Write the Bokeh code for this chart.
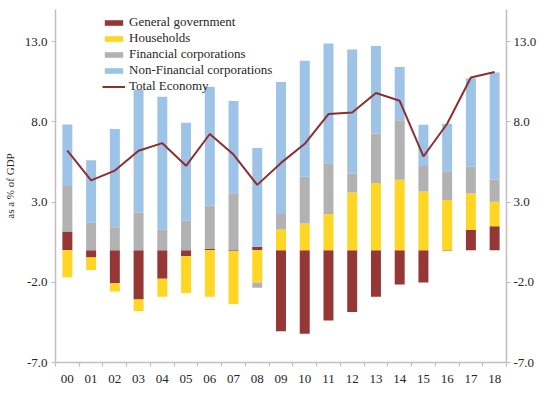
from bokeh.plotting import figure
from bokeh.models import Range1d, LinearAxis, FixedTicker, Legend, LegendItem, ColumnDataSource
from bokeh.embed import file_html
from bokeh.resources import INLINE

years = ["00", "01", "02", "03", "04", "05", "06", "07", "08", "09",
         "10", "11", "12", "13", "14", "15", "16", "17", "18"]
general_government = [1.17, -0.45, -2.06, -3.07, -1.78, -0.37, 0.08, -0.05, 0.22, -5.05,
                      -5.21, -4.38, -3.86, -2.91, -2.14, -2.02, -0.03, 1.27, 1.49]
households = [-1.68, -0.78, -0.52, -0.72, -1.13, -2.30, -2.91, -3.30, -2.02, 1.29,
              1.67, 2.25, 3.60, 4.19, 4.39, 3.65, 3.12, 2.27, 1.53]
financial_corps = [2.83, 1.71, 1.43, 2.35, 1.27, 1.83, 2.70, 3.55, -0.32, 0.96,
                   2.90, 3.17, 1.17, 3.08, 3.71, 1.59, 1.80, 1.66, 1.39]
non_financial_corps = [3.84, 3.89, 6.13, 7.67, 8.30, 6.11, 7.40, 5.74, 6.15, 8.23,
                       7.24, 7.46, 7.73, 5.45, 3.31, 2.58, 2.96, 5.52, 6.67]
total_economy = [6.20, 4.35, 4.96, 6.20, 6.67, 5.26, 7.24, 5.96, 4.07, 5.44,
                 6.63, 8.48, 8.58, 9.80, 9.31, 5.84, 7.88, 10.76, 11.11]

y_ticks = [-7, -2, 3, 8, 13]

names = ["General government", "Households", "Financial corporations", "Non-Financial corporations"]
colors = ["#953735", "#FFD624", "#B2B2B2", "#9DC3E6"]
series = [general_government, households, financial_corps, non_financial_corps]

FONT = "'Liberation Serif', 'Times New Roman', serif"
AXIS_COLOR = "#BFBFBF"
TEXT_COLOR = "#262626"

n = len(years)
xs = list(range(n))

p = figure(width=539, height=389, output_backend="svg", toolbar_location=None,
           x_range=Range1d(-0.5, n - 0.5), y_range=Range1d(-7, 15),
           min_border_top=9, min_border_bottom=27, min_border_left=50, min_border_right=30)
p.outline_line_color = None
p.xgrid.visible = False
p.ygrid.visible = False
p.background_fill_color = "white"
p.border_fill_color = "white"

pos_base = [0.0] * n
neg_base = [0.0] * n
items = []
for name, col, vals in zip(names, colors, series):
    bottoms, tops = [], []
    for i, v in enumerate(vals):
        if v >= 0:
            bottoms.append(pos_base[i]); tops.append(pos_base[i] + v); pos_base[i] += v
        else:
            tops.append(neg_base[i]); bottoms.append(neg_base[i] + v); neg_base[i] += v
    src = ColumnDataSource(dict(x=xs, top=tops, bottom=bottoms))
    r = p.vbar(x="x", top="top", bottom="bottom", width=0.42, source=src,
               fill_color=col, line_color=None)
    items.append(LegendItem(label=name, renderers=[r]))

lsrc = ColumnDataSource(dict(x=xs, y=total_economy))
lr = p.line(x="x", y="y", source=lsrc, line_color="#8E2F2F", line_width=2)
items.append(LegendItem(label="Total Economy", renderers=[lr]))

def style_axis(ax):
    ax.axis_line_color = AXIS_COLOR
    ax.axis_line_width = 1.5
    ax.major_tick_line_color = AXIS_COLOR
    ax.major_tick_line_width = 1.2
    ax.minor_tick_line_color = None
    ax.major_label_text_font = FONT
    ax.major_label_text_font_size = "13px"
    ax.major_label_text_color = TEXT_COLOR

yax = p.yaxis[0]
yax.ticker = FixedTicker(ticks=y_ticks)
yax.major_label_overrides = {t: f"{t:.1f}" for t in y_ticks}
style_axis(yax)
yax.major_tick_in = 0
yax.major_tick_out = 4
yax.major_label_standoff = 4
yax.axis_label = "as a % of GDP"
yax.axis_label_text_font = FONT
yax.axis_label_text_font_style = "normal"
yax.axis_label_text_font_size = "11px"
yax.axis_label_text_color = TEXT_COLOR
yax.axis_label_standoff = 6

rax = LinearAxis(ticker=FixedTicker(ticks=y_ticks))
rax.major_label_overrides = {t: f"{t:.1f}" for t in y_ticks}
style_axis(rax)
rax.major_tick_in = 0
rax.major_tick_out = 4
rax.major_label_standoff = 3
p.add_layout(rax, "right")

xax = p.xaxis[0]
xax.ticker = FixedTicker(ticks=xs, minor_ticks=[i - 0.5 for i in range(n + 1)])
xax.major_label_overrides = {i: y for i, y in enumerate(years)}
style_axis(xax)
xax.major_tick_line_color = None
xax.minor_tick_line_color = AXIS_COLOR
xax.minor_tick_line_width = 1.2
xax.minor_tick_in = 0
xax.minor_tick_out = 4
xax.major_label_standoff = 6

legend = Legend(items=items, location=(47, 268), orientation="vertical",
                background_fill_alpha=0, border_line_color=None,
                padding=0, margin=0, spacing=0,
                glyph_width=23, glyph_height=7, label_height=16,
                label_standoff=4,
                label_text_font=FONT, label_text_font_size="13px",
                label_text_color=TEXT_COLOR)
p.add_layout(legend, "center")

open("out.html", "w").write(file_html(p, INLINE))
